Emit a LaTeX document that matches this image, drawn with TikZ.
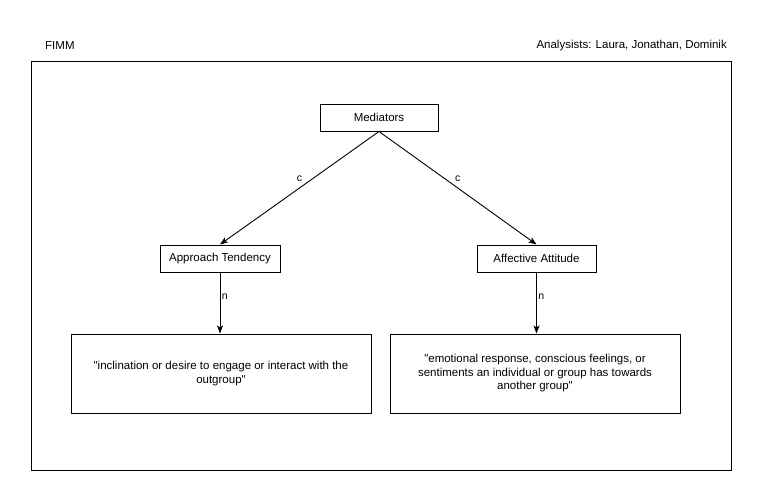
\documentclass[tikz,border=0pt]{standalone}
\usepackage{fontspec}
\newfontfamily\lsans{Liberation Sans}
\usetikzlibrary{arrows.meta}
\begin{document}
\begin{tikzpicture}[x=1pt,y=-1pt,
  box/.style={draw=black,line width=1pt,fill=white,inner sep=0pt,font=\lsans\fontsize{11.5}{13.5}\selectfont},
  conn/.style={draw=black,line width=0.9pt,-{Stealth[length=8pt,width=6pt,inset=2pt]}},
  lbl/.style={font=\lsans\fontsize{10.5}{12}\selectfont,inner sep=1pt},
  hdr/.style={font=\lsans\fontsize{11.5}{13.5}\selectfont,inner sep=0pt}]
\useasboundingbox (0,0) rectangle (761,501);
\fill[white] (0,0) rectangle (761,501);
\node[hdr,anchor=west] (title) at (45,46) {FIMM};
\node[hdr,anchor=east] (analysts) at (727,46) {Analysists: Laura, Jonathan, Dominik};
\node[draw=black,line width=1pt,minimum width=700pt,minimum height=409pt,inner sep=0pt] (frame) at (381,265.5) {};
\node[box,minimum width=118pt,minimum height=27pt] (med) at (379,117.5) {Mediators};
\node[box,minimum width=120pt,minimum height=27pt] (app) at (220,258.5) {Approach Tendency};
\node[box,minimum width=119pt,minimum height=27pt] (aff) at (536.5,258.5) {Affective Attitude};
\node[box,minimum width=300pt,minimum height=79pt,align=center] (defa) at (221,373.5) {"inclination or desire to engage or interact with the\\outgroup"};
\node[box,minimum width=290pt,minimum height=79pt,align=center] (defb) at (535,373.5) {"emotional response, conscious feelings, or\\sentiments an individual or group has towards\\another group"};
\draw[conn] (med.south) -- node[lbl,pos=0.5,yshift=9pt] {c} (app.north);
\draw[conn] (med.south) -- node[lbl,pos=0.5,yshift=9pt] {c} (aff.north);
\draw[conn] (app.south) -- node[lbl,pos=0.4,right,inner sep=1.5pt] {n} (app.south|-defa.north);
\draw[conn] (aff.south) -- node[lbl,pos=0.4,right,inner sep=1.5pt] {n} (aff.south|-defb.north);
\end{tikzpicture}
\end{document}
